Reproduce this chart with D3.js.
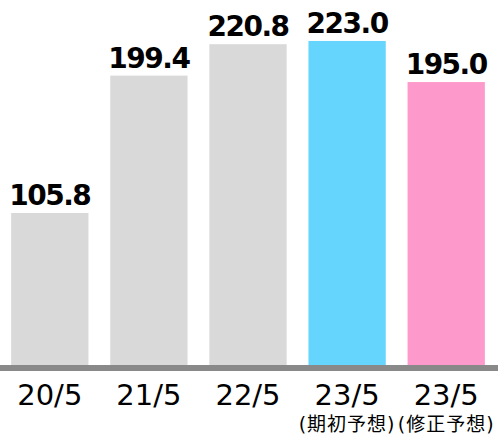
<!DOCTYPE html>
<html><head><meta charset="utf-8">
<script src="https://cdn.jsdelivr.net/npm/d3@7"></script>
<style>body{margin:0;background:#fff;}svg{display:block;}</style>
</head><body>
<script>
const categories = ["20/5", "21/5", "22/5", "23/5", "23/5"];
const subLabels = ["", "", "", "(期初予想)", "(修正予想)"];
const values = [105.8, 199.4, 220.8, 223.0, 195.0];
const valueLabels = ["105.8", "199.4", "220.8", "223.0", "195.0"];
const barColors = ["#d9d9d9", "#d9d9d9", "#d9d9d9", "#66d5fe", "#fe99cb"];

const W = 498, H = 436;
const svg = d3.select("body").append("svg").attr("width", W).attr("height", H);

const x = d3.scaleBand().domain(d3.range(categories.length)).range([-1, 497])
  .paddingInner(0.22).paddingOuter(0.1225);
const y = d3.scaleLinear().domain([0, 250.9]).range([368.3, 0]);

svg.selectAll("rect.bar").data(values).join("rect").attr("class", "bar")
  .attr("x", (d, i) => x(i)).attr("width", x.bandwidth())
  .attr("y", d => y(d)).attr("height", d => y(0) - y(d))
  .attr("fill", (d, i) => barColors[i]);

// axis line
svg.append("rect").attr("x", 0).attr("width", W).attr("y", 365).attr("height", 6).attr("fill", "#898989");

svg.selectAll("text.val").data(values).join("text").attr("class", "val")
  .attr("x", (d, i) => x(i) + x.bandwidth() / 2)
  .attr("y", d => y(d) - 8)
  .attr("text-anchor", "middle")
  .style("font-family", "DejaVu Sans").style("font-weight", "bold")
  .style("font-size", "28px").style("letter-spacing", "-1.5px")
  .text((d, i) => valueLabels[i]);

svg.selectAll("text.cat").data(categories).join("text").attr("class", "cat")
  .attr("x", (d, i) => x(i) + x.bandwidth() / 2)
  .attr("y", 405)
  .attr("text-anchor", "middle")
  .style("font-family", "DejaVu Sans").style("font-size", "29px")
  .text(d => d);

svg.selectAll("text.sub").data(subLabels).join("text").attr("class", "sub")
  .attr("x", (d, i) => x(i) + x.bandwidth() / 2)
  .attr("y", 431)
  .attr("text-anchor", "middle")
  .style("font-family", "'DejaVu Sans', 'Noto Sans CJK JP'").style("font-size", "19px")
  .style("letter-spacing", "1px")
  .text(d => d);
</script>
</body></html>
